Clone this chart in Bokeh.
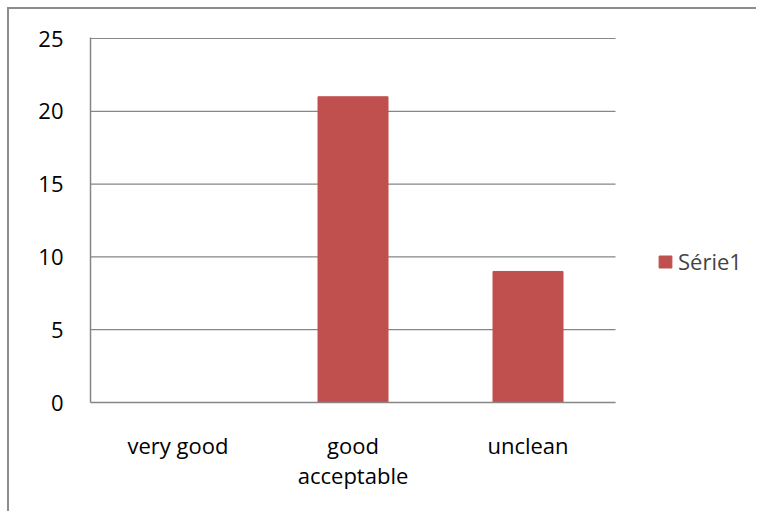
from bokeh.plotting import figure
from bokeh.models import Range1d, FixedTicker, Legend, LegendItem, LinearAxis
from bokeh.embed import file_html
from bokeh.resources import INLINE

categories = ["very good", "good acceptable", "unclean"]
values = [0, 21, 9]
series_name = "Série1"
y_ticks = [0, 5, 10, 15, 20, 25]
label_line1 = ["very good", "good", "unclean"]
label_line2 = ["", "acceptable", ""]

FONT = "Open Sans"
FSIZE = "22px"
GRID = "#868686"
BAR = "#C0504D"

n = len(categories)
xs = [i + 0.5 for i in range(n)]  # category centres on a numeric scale

p = figure(x_range=Range1d(0, 3.817), y_range=Range1d(0, 25.07),
           width=749, height=504, output_backend="svg", toolbar_location=None,
           x_axis_location=None,
           min_border_left=81, min_border_top=28, min_border_right=0, min_border_bottom=111)
p.styles = {"border-top": "2px solid #8c8c8c", "border-left": "2px solid #8c8c8c",
            "margin-top": "7px", "margin-left": "7px"}
p.outline_line_color = None
p.background_fill_color = "white"
p.xgrid.grid_line_color = None
p.ygrid.grid_line_color = None

# horizontal gridlines across the category area only
p.segment(x0=[0] * len(y_ticks), x1=[n] * len(y_ticks), y0=y_ticks, y1=y_ticks,
          line_color=GRID, line_width=1.2)

r = p.vbar(x=xs, top=values, width=0.4, fill_color=BAR, line_color=BAR)

p.yaxis.ticker = FixedTicker(ticks=y_ticks)

ax1 = LinearAxis(ticker=FixedTicker(ticks=xs),
                 major_label_overrides={x: t for x, t in zip(xs, label_line1)},
                 bounds=(0, n))
ax2 = LinearAxis(ticker=FixedTicker(ticks=xs),
                 major_label_overrides={x: t for x, t in zip(xs, label_line2)},
                 axis_line_color=None)
p.add_layout(ax1, "below")
p.add_layout(ax2, "below")

for ax in (ax1, ax2, p.yaxis[0]):
    ax.major_tick_line_color = None
    ax.minor_tick_line_color = None
    ax.major_tick_out = 0
    ax.major_tick_in = 0
    ax.major_label_text_font = FONT
    ax.major_label_text_font_size = FSIZE
    ax.major_label_text_color = "black"
for ax in (ax1, p.yaxis[0]):
    ax.axis_line_color = GRID
    ax.axis_line_width = 1.5

p.yaxis.major_label_standoff = 27
ax1.major_label_standoff = 27
ax2.major_label_standoff = -3

legend = Legend(items=[LegendItem(label=series_name, renderers=[r])],
                location=(567, 126), padding=0, margin=0, spacing=0,
                glyph_width=16, glyph_height=15, label_standoff=5,
                label_text_font=FONT, label_text_font_size=FSIZE,
                border_line_color=None, background_fill_alpha=0)
p.add_layout(legend, "center")

open("out.html", "w").write(file_html(p, INLINE))
